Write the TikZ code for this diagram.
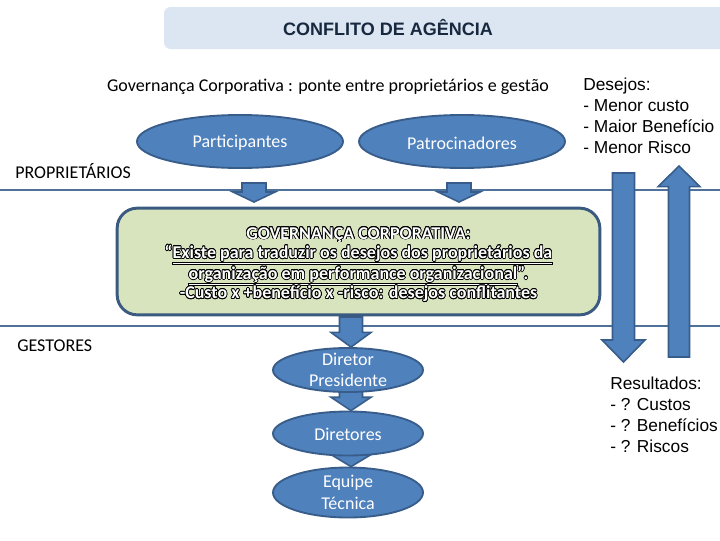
\documentclass[tikz,border=0pt]{standalone}
\usepackage{fontspec}
\setmainfont{Carlito}
\newfontfamily\arialfont{Liberation Sans}
\usepackage[copies]{contour}
\usetikzlibrary{shapes.geometric,calc,positioning,backgrounds}

\definecolor{nodeblue}{HTML}{4F81BD}
\definecolor{edgeblue}{HTML}{385D8A}
\definecolor{govfill}{HTML}{D7E4BD}
\definecolor{govedge}{HTML}{3A5A80}
\definecolor{titlefill}{HTML}{DCE6F2}
\definecolor{titletext}{HTML}{17283F}
\definecolor{linecol}{HTML}{4E7299}

\contourlength{0.55pt}
\newcommand{\cfont}{\fontsize{13.5}{16}\selectfont}
\newcommand{\olt}[1]{{\color{white}\contour{black}{#1}}}
% block arrow: from, to, shaft half, head half, head length
\newcommand{\blkarrow}[5]{%
  \coordinate (hb) at ($(#2)!#5!(#1)$);
  \draw[blkarrow] ($(#1)+(-#3,0)$) -- ($(#1)+(#3,0)$) -- ($(hb)+(#3,0)$)
    -- ($(hb)+(#4,0)$) -- (#2) -- ($(hb)+(-#4,0)$) -- ($(hb)+(-#3,0)$) -- cycle;}

\tikzset{
  person/.style={ellipse,draw=edgeblue,fill=nodeblue,line width=1.4pt,inner sep=0pt},
  bigell/.style={person,minimum width=154.5pt,minimum height=39.75pt},
  smallell/.style={person,minimum width=112.5pt,minimum height=33pt},
  ltxt/.style={text=white,align=center,font=\cfont\linespread{1.02}},
  blkarrow/.style={draw=edgeblue,fill=nodeblue,line width=1.2pt,line join=miter},
  sepline/.style={draw=linecol,line width=0.9pt},
  lbl/.style={font=\cfont,inner sep=0pt},
  listtxt/.style={font=\arialfont\fontsize{13}{15.75}\selectfont,align=left,anchor=north west,inner sep=0pt},
  govbox/.style={draw=govedge,fill=govfill,line width=2.2pt,rounded corners=15pt,
    minimum width=362pt,minimum height=80pt},
  govtxt/.style={align=center,yshift=-2.5pt,font=\bfseries\fontsize{13.5}{14.5}\selectfont},
}

\begin{document}
\begin{tikzpicture}[x=0.75pt,y=-0.75pt,line cap=round,line join=round]
\clip (0,0) rectangle (720,540);

% title band
\node[font=\arialfont\bfseries\fontsize{13.5}{16}\selectfont,text=titletext] (title) at (388,28) {CONFLITO DE AGÊNCIA};
\node[lbl] (sub) at (328,87) {Governança Corporativa : ponte entre proprietários e gestão};

% owners
\node[bigell,label={[ltxt,yshift=-1pt]center:Participantes}] (part) at (240,141.5) {};
\node[bigell,label={[ltxt,yshift=-1pt]center:Patrocinadores}] (patro) at (462,141.5) {};
\node[lbl,anchor=west] (own) at (15,171) {PROPRIETÁRIOS};
\node[lbl,anchor=west] (mgr) at (17,346) {GESTORES};

% governance box
\node[govbox,label={[govtxt]center:%
  \olt{GOVERNANÇA CORPORATIVA:}\\
  \olt{“\underline{Existe para traduzir os desejos dos proprietários da}}\\
  \olt{\underline{organização em performance organizacional}”.}\\
  \olt{-Custo x +benefício x -risco: desejos conflitantes}}] (gov) at (358.5,261.5) {};

% managers chain
\node[smallell,label={[ltxt]center:Diretor\\Presidente}] (pres) at (348,370) {};
\node[smallell,label={[ltxt,yshift=-1pt]center:Diretores}] (dirs) at (348,433.5) {};
\node[smallell,minimum height=37.5pt,label={[ltxt]center:Equipe\\Técnica}] (team) at (348,492.5) {};

% wishes and results
\node[listtxt] (wish) at (583,77.5) {Desejos:\\- Menor custo\\- Maior Benefício\\- Menor Risco};
\node[listtxt] (res) at (610,377) {Resultados:\\- ? Custos\\- ? Benefícios\\- ? Riscos};

\begin{scope}[on background layer]
\fill[white] (0,0) rectangle (720,540);
\fill[titlefill,rounded corners=5pt] (164,7) rectangle (740,49);
% separators
\draw[sepline] (0,190) -- (720,190);
\draw[sepline] (0,326) -- (720,326);
\coordinate (a1s) at (254,183);
\coordinate (a1e) at (254,202);
\coordinate (a2s) at (459,183);
\coordinate (a2e) at (459,202);
\blkarrow{a1s}{a1e}{12}{21}{7.5pt}
\blkarrow{a2s}{a2e}{12}{21}{7.5pt}
\coordinate (b1s) at (351,317);
\coordinate (b2s) at (351,385);
\coordinate (b3s) at (351,450);
\blkarrow{b1s}{pres.north -| b1s}{11.5}{20}{11pt}
\blkarrow{b2s}{dirs.north -| b2s}{11.5}{20}{10pt}
\blkarrow{b3s}{team.north -| b3s}{11.5}{20}{9pt}
\coordinate (dn1) at (623.5,173);
\coordinate (dn2) at (623.5,362);
\coordinate (up1) at (679,357);
\coordinate (up2) at (679,166);
\blkarrow{dn1}{dn2}{11}{21.5}{16.5pt}
\blkarrow{up1}{up2}{10.5}{21}{15.5pt}
\end{scope}
\end{tikzpicture}
\end{document}
